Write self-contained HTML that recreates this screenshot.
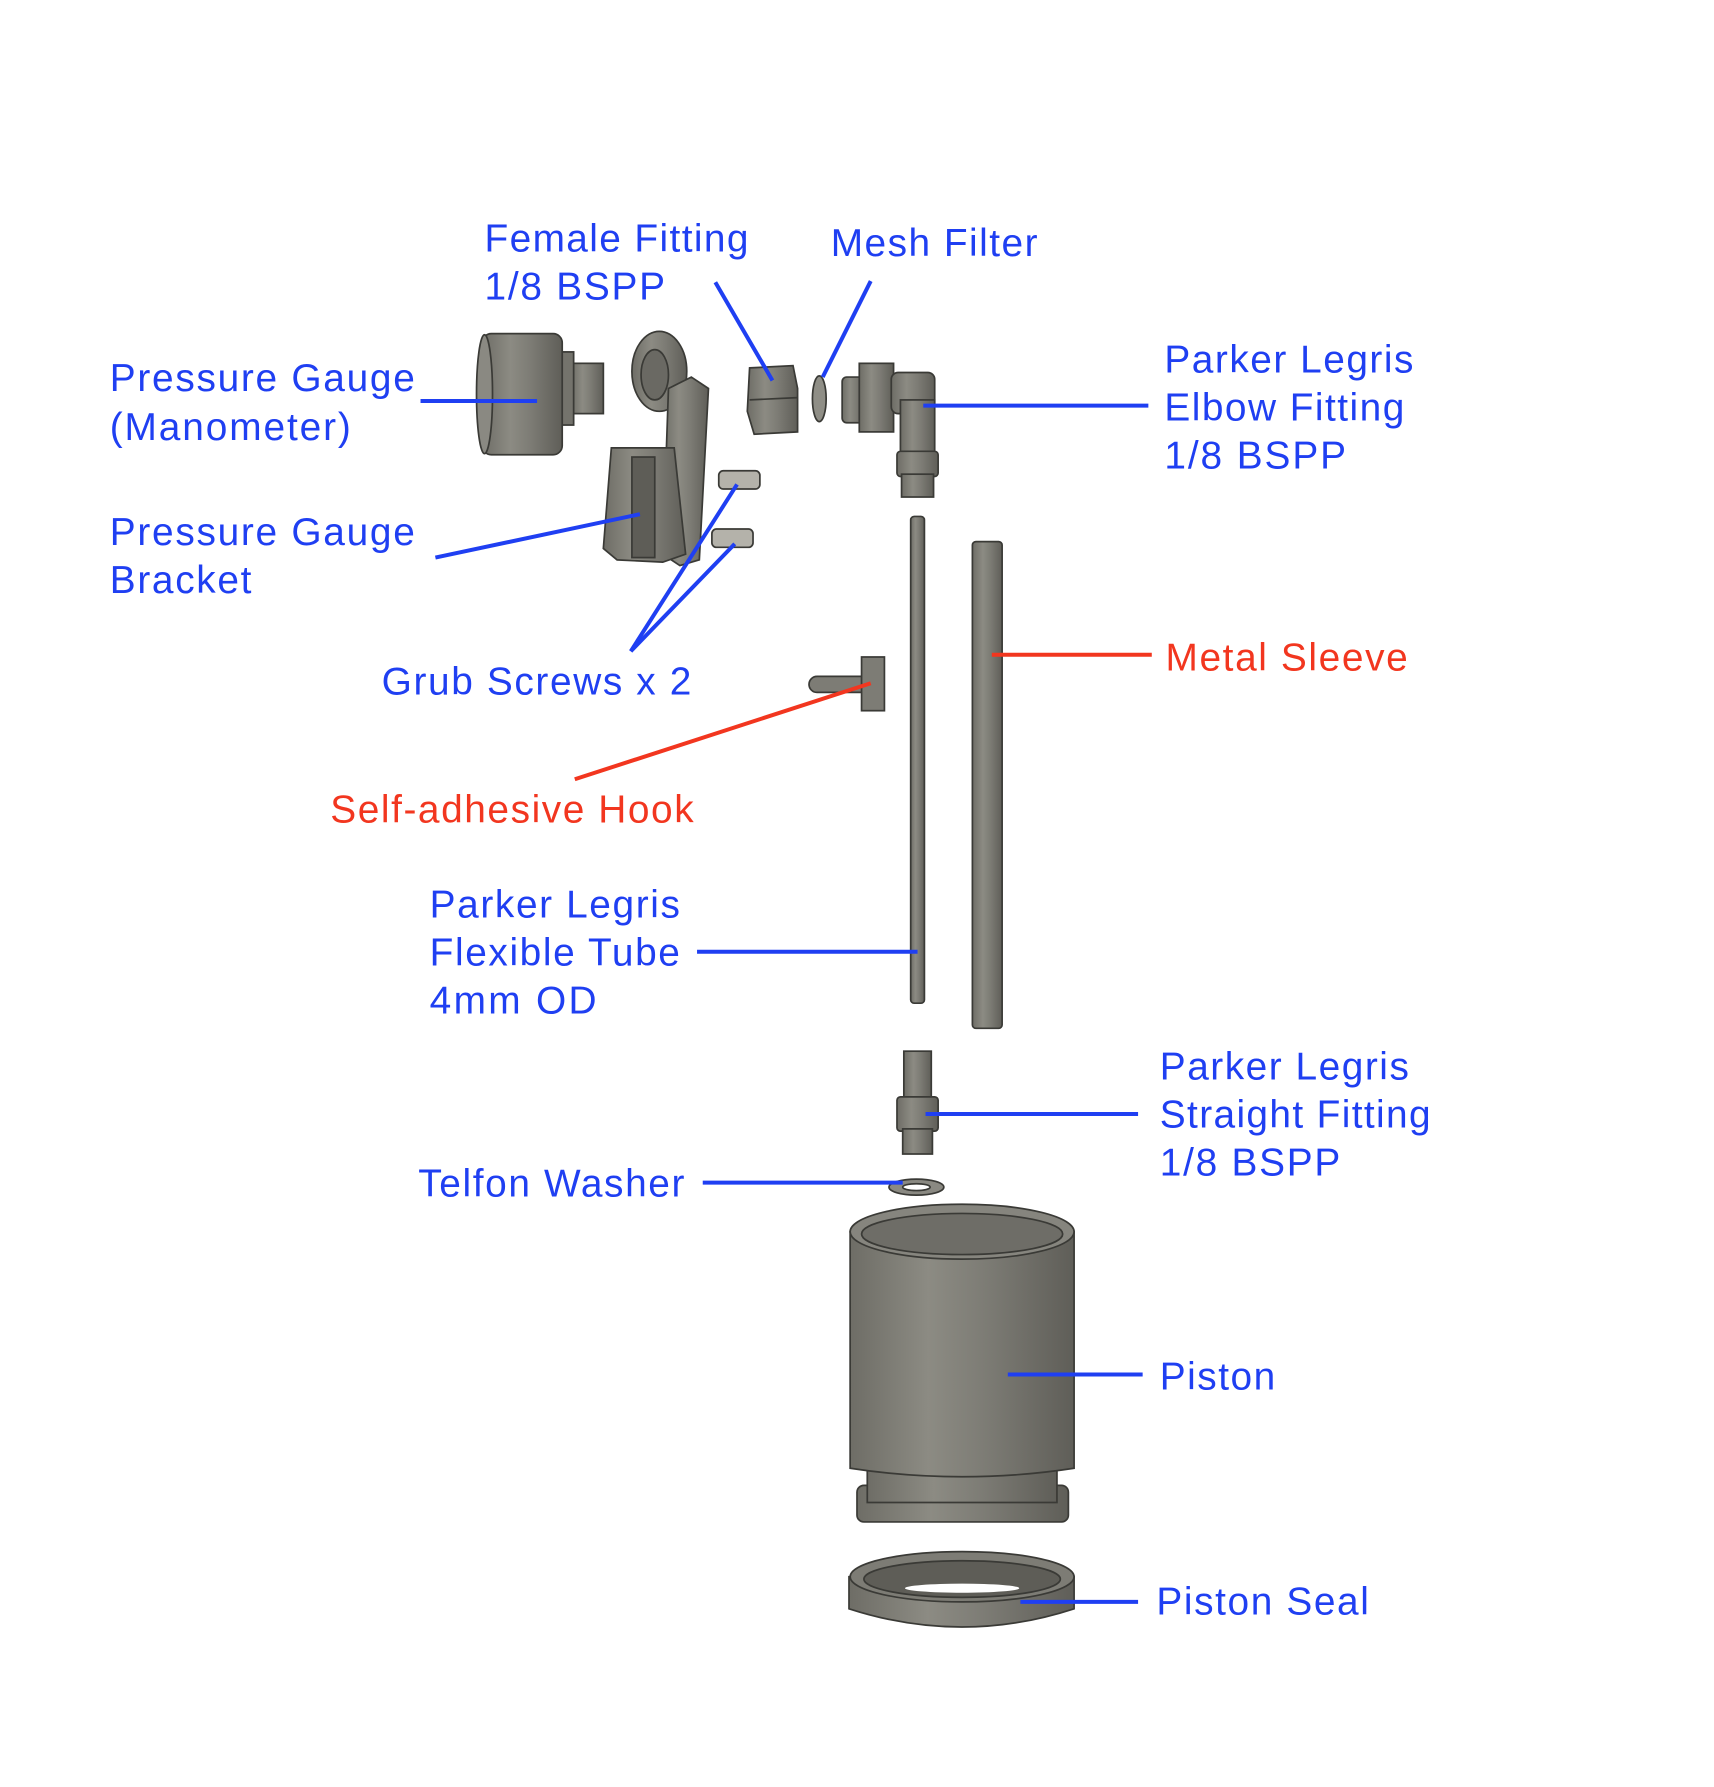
<!DOCTYPE html>
<html><head><meta charset="utf-8"><style>
html,body{margin:0;padding:0;background:#fff;}
svg{display:block;}
text{font-family:"Liberation Sans",Arial,sans-serif;font-size:34px;fill:#1f3ff2;}
.r{fill:#f2361f;}
</style></head><body>
<svg width="1714" height="1787" viewBox="0 0 1500 1564" xmlns="http://www.w3.org/2000/svg">
<defs>
<linearGradient id="g" x1="0" x2="1" y1="0" y2="0">
<stop offset="0" stop-color="#6e6d66"/><stop offset="0.35" stop-color="#8c8b83"/><stop offset="0.6" stop-color="#7d7c75"/><stop offset="1" stop-color="#5f5e58"/></linearGradient>
</defs>
<g stroke="#3a3a36" stroke-width="1.5">
<rect x="500" y="318" width="28" height="44" fill="url(#g)"/>
<rect x="488" y="308" width="14" height="64" fill="#74736c"/>
<rect x="422" y="292" width="70" height="106" rx="8" fill="url(#g)"/>
<ellipse cx="424" cy="345" rx="7" ry="52" fill="#8a8982"/>
<ellipse cx="577" cy="325" rx="24" ry="35" fill="url(#g)"/>
<ellipse cx="573" cy="328" rx="12" ry="22" fill="#6a6963"/>
<polygon points="585,340 605,330 620,340 612,490 595,495 580,485" fill="url(#g)"/>
<polygon points="535,392 590,392 600,485 580,492 540,490 528,480" fill="url(#g)"/>
<rect x="553" y="400" width="20" height="88" fill="#5e5d57"/>
<rect x="629" y="412" width="36" height="16" rx="4" fill="#b4b2aa"/>
<rect x="623" y="463" width="36" height="16" rx="4" fill="#b4b2aa"/>
<polygon points="656,322 694,320 698,340 698,378 660,380 654,360" fill="url(#g)"/>
<line x1="656" y1="350" x2="698" y2="348"/>
<ellipse cx="717" cy="349" rx="6" ry="20" fill="#8f8e86"/>
<rect x="737" y="330" width="20" height="40" rx="4" fill="url(#g)"/>
<rect x="752" y="318" width="30" height="60" fill="url(#g)"/>
<rect x="780" y="326" width="38" height="36" rx="6" fill="url(#g)"/>
<rect x="788" y="350" width="30" height="50" fill="url(#g)"/>
<rect x="785" y="395" width="36" height="22" rx="3" fill="url(#g)"/>
<rect x="789" y="415" width="28" height="20" fill="url(#g)"/>
<rect x="797" y="452" width="12" height="426" rx="3" fill="url(#g)"/>
<rect x="851" y="474" width="26" height="426" rx="3" fill="url(#g)"/>
<rect x="708" y="592" width="52" height="14" rx="7" fill="#7d7c75"/>
<rect x="754" y="575" width="20" height="47" fill="#7d7c75"/>
<rect x="791" y="920" width="24" height="42" fill="url(#g)"/>
<rect x="785" y="960" width="36" height="30" rx="3" fill="url(#g)"/>
<rect x="790" y="988" width="26" height="22" fill="url(#g)"/>
<ellipse cx="802" cy="1039" rx="24" ry="7" fill="#8a8982"/>
<ellipse cx="802" cy="1039" rx="12" ry="3" fill="#fff"/>
<rect x="750" y="1300" width="185" height="32" rx="6" fill="url(#g)"/>
<rect x="759" y="1280" width="166" height="35" fill="url(#g)"/>
<path d="M744,1078 L744,1285 Q842,1300 940,1285 L940,1078 Z" fill="url(#g)"/>
<ellipse cx="842" cy="1078" rx="98" ry="24" fill="#86857e"/>
<ellipse cx="842" cy="1080" rx="88" ry="18" fill="#6e6d67"/>
<path d="M743,1380 L743,1408 Q842,1440 940,1408 L940,1380 Z" fill="url(#g)"/>
<ellipse cx="842" cy="1380" rx="98" ry="22" fill="#7d7c75"/>
<ellipse cx="842" cy="1382" rx="86" ry="16" fill="#5e5d57"/>
<ellipse cx="842" cy="1390" rx="50" ry="4" fill="#fff" stroke="none"/>
</g>
<g stroke="#1f3ff2" stroke-width="3.5" fill="none">
<line x1="368" y1="351" x2="470" y2="351"/>
<line x1="626" y1="247" x2="676" y2="333"/>
<line x1="762" y1="246" x2="720" y2="330"/>
<line x1="808" y1="355" x2="1005" y2="355"/>
<line x1="381" y1="488" x2="560" y2="450"/>
<line x1="552" y1="570" x2="645" y2="424"/>
<line x1="552" y1="570" x2="643" y2="476"/>
<line x1="610" y1="833" x2="803" y2="833"/>
<line x1="810" y1="975" x2="996" y2="975"/>
<line x1="615" y1="1035" x2="790" y2="1035"/>
<line x1="882" y1="1203" x2="1000" y2="1203"/>
<line x1="893" y1="1402" x2="996" y2="1402"/>
</g>
<g stroke="#f2361f" stroke-width="3.5">
<line x1="868" y1="573" x2="1008" y2="573"/>
<line x1="503" y1="682" x2="762" y2="598"/>
</g>
<text x="424" y="220" textLength="231">Female Fitting</text>
<text x="424" y="262" textLength="158">1/8 BSPP</text>
<text x="727" y="224" textLength="181">Mesh Filter</text>
<text x="96" y="342" textLength="267">Pressure Gauge</text>
<text x="96" y="385" textLength="211">(Manometer)</text>
<text x="1019" y="326" textLength="218">Parker Legris</text>
<text x="1019" y="368" textLength="210">Elbow Fitting</text>
<text x="1019" y="410" textLength="159">1/8 BSPP</text>
<text x="96" y="477" textLength="267">Pressure Gauge</text>
<text x="96" y="519" textLength="124">Bracket</text>
<text x="334" y="608" textLength="271">Grub Screws x 2</text>
<text class="r" x="1020" y="587" textLength="212">Metal Sleeve</text>
<text class="r" x="289" y="720" textLength="318">Self-adhesive Hook</text>
<text x="376" y="803" textLength="219">Parker Legris</text>
<text x="376" y="845" textLength="219">Flexible Tube</text>
<text x="376" y="887" textLength="146">4mm OD</text>
<text x="1015" y="945" textLength="218">Parker Legris</text>
<text x="1015" y="987" textLength="237">Straight Fitting</text>
<text x="1015" y="1029" textLength="158">1/8 BSPP</text>
<text x="366" y="1047" textLength="233">Telfon Washer</text>
<text x="1015" y="1216" textLength="101">Piston</text>
<text x="1012" y="1413" textLength="186">Piston Seal</text>
</svg>
</body></html>
